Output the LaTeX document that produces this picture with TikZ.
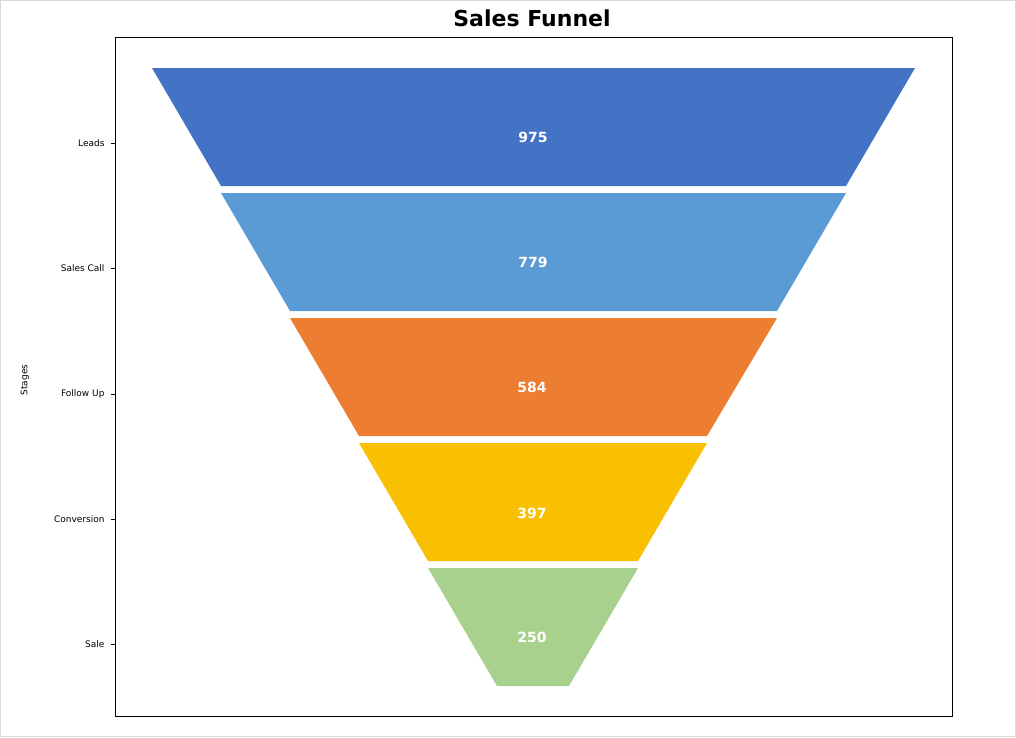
\documentclass[tikz,border=0pt]{standalone}
\usepackage{fontspec}
\setmainfont{DejaVu Sans}
\definecolor{c1}{HTML}{4472C4}
\definecolor{c2}{HTML}{5B9BD5}
\definecolor{c3}{HTML}{ED7D31}
\definecolor{c4}{HTML}{F8C000}
\definecolor{c5}{HTML}{A9D18E}
\begin{document}
\begin{tikzpicture}[x=1pt,y=-1pt,
  val/.style={text=white,font=\bfseries\fontsize{14}{16}\selectfont},
  tick/.style={anchor=east,font=\fontsize{9}{11}\selectfont}]
\useasboundingbox (0,0) rectangle (1016,737);
\draw[gray!30] (0.5,0.5) rectangle (1015.5,736.5);
\draw (115,37) rectangle (952,716);
\node[font=\bfseries\fontsize{22}{26}\selectfont] (title) at (532,18) {Sales Funnel};
\fill[c1] (152,68) -- (915,68) -- (846,186) -- (221,186) -- cycle;
\fill[c2] (221,193) -- (846,193) -- (777,311) -- (290,311) -- cycle;
\fill[c3] (290,318) -- (777,318) -- (707,436) -- (359,436) -- cycle;
\fill[c4] (359,443) -- (707,443) -- (638,561) -- (428,561) -- cycle;
\fill[c5] (428,568) -- (638,568) -- (569,686) -- (497,686) -- cycle;
\node[val] (v1) at (533,137) {975};
\node[val] (v2) at (533,262) {779};
\node[val] (v3) at (532,387) {584};
\node[val] (v4) at (532,513) {397};
\node[val] (v5) at (532,637) {250};
\foreach \y/\t [count=\i] in {143/Leads,268/Sales Call,394/Follow Up,519/Conversion,644/Sale}{
  \draw (111,\y) -- (115,\y);
  \node[tick] (t\i) at (108,\y) {\t};
}
\node[rotate=90,font=\fontsize{9}{11}\selectfont] (ylab) at (25,380) {Stages};
\end{tikzpicture}
\end{document}
